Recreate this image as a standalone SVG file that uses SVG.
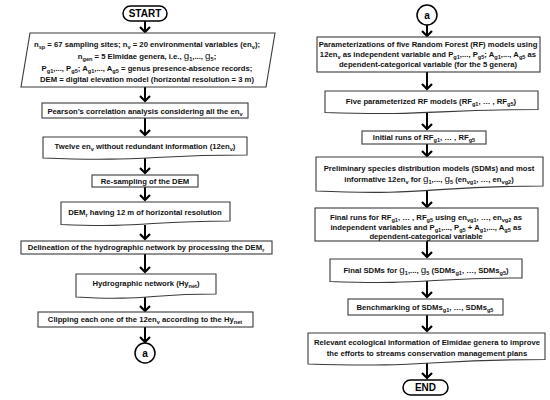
<svg xmlns="http://www.w3.org/2000/svg" width="550" height="400" viewBox="0 0 550 400">
<style>
.bx{fill:#fff;stroke:#3a3a3a;stroke-width:1.1}
.tm{fill:#fff;stroke:#000;stroke-width:1.5}
.t{font-family:"Liberation Sans",Arial,sans-serif;font-weight:bold;font-size:7.7px;fill:#111;text-anchor:middle}
.tt{font-family:"Liberation Sans",Arial,sans-serif;font-weight:bold;font-size:10px;fill:#000;text-anchor:middle}
.s{font-size:5.6px}
.g{font-size:9.8px;font-weight:normal}
.ar{stroke:#000;stroke-width:2;fill:none;marker-end:url(#ah)}
</style>
<defs>
<marker id="ah" viewBox="-7 -7 14 14" refX="0" refY="0" markerWidth="14" markerHeight="14" markerUnits="userSpaceOnUse" orient="auto">
<path d="M-5,-5 L0,0 L-5,5" fill="none" stroke="#000" stroke-width="2.2"/>
</marker>
</defs>
<rect width="550" height="400" fill="#fff"/>

<g id="connectors">
<path class="ar" d="M145,21 V32"/>
<path class="ar" d="M145,87 V101"/>
<path class="ar" d="M145,118 V135"/>
<path class="ar" d="M145,157 V173"/>
<path class="ar" d="M145,187 V200"/>
<path class="ar" d="M145,225 V239"/>
<path class="ar" d="M145,254 V272"/>
<path class="ar" d="M145,296 V311"/>
<path class="ar" d="M145,327 V342"/>
<path class="ar" d="M427,25 V36"/>
<path class="ar" d="M427,72 V89"/>
<path class="ar" d="M427,112 V129"/>
<path class="ar" d="M427,144 V156"/>
<path class="ar" d="M427,190 V207"/>
<path class="ar" d="M427,241 V257"/>
<path class="ar" d="M427,281 V297"/>
<path class="ar" d="M427,315 V331"/>
<path class="ar" d="M427,363 V378"/>
</g>

<g id="start">
<rect class="tm" x="123" y="6" width="44" height="15" rx="7.5"/>
<text class="tt" x="145" y="17.3">START</text>
</g>

<g id="inputs">
<polygon class="bx" points="30,33 275,33 266,87 21,87"/>
<text class="t" x="147" y="47">n<tspan class="s" dy="2">sp</tspan><tspan dy="-2"> = 67 sampling sites; n</tspan><tspan class="s" dy="2">v</tspan><tspan dy="-2"> = 20 environmental variables (en</tspan><tspan class="s" dy="2">v</tspan><tspan dy="-2">);</tspan></text>
<text class="t" x="147" y="59">n<tspan class="s" dy="2">gen</tspan><tspan dy="-2"> = 5 Elmidae genera, i.e., </tspan><tspan class="g">g</tspan><tspan class="s" dy="2">1</tspan><tspan dy="-2">,..., </tspan><tspan class="g">g</tspan><tspan class="s" dy="2">5</tspan><tspan dy="-2">;</tspan></text>
<text class="t" x="147" y="71">P<tspan class="s" dy="2">g1</tspan><tspan dy="-2">,..., P</tspan><tspan class="s" dy="2">g5</tspan><tspan dy="-2">; A</tspan><tspan class="s" dy="2">g1</tspan><tspan dy="-2">,..., A</tspan><tspan class="s" dy="2">g5</tspan><tspan dy="-2"> = genus presence-absence records;</tspan></text>
<text class="t" x="147" y="82">DEM = digital elevation model (horizontal resolution = 3 m)</text>
</g>

<g id="pearson">
<rect class="bx" x="42" y="103" width="206" height="15"/>
<text class="t" x="145" y="113.5">Pearson’s correlation analysis considering all the en<tspan class="s" dy="2">v</tspan></text>
</g>

<g id="twelve">
<path class="bx" d="M43,137 H247 V155 C145,155 145,162 43,158 Z"/>
<text class="t" x="145" y="149">Twelve en<tspan class="s" dy="2">v</tspan><tspan dy="-2"> without redundant information (12en</tspan><tspan class="s" dy="2">v</tspan><tspan dy="-2">)</tspan></text>
</g>

<g id="resampling">
<rect class="bx" x="92" y="175" width="106" height="12"/>
<text class="t" x="145" y="183.8">Re-sampling of the DEM</text>
</g>

<g id="demr">
<path class="bx" d="M61,202 H230 V221 C145,221 145,228 61,224.5 Z"/>
<text class="t" x="145" y="214.5">DEM<tspan class="s" dy="2">r</tspan><tspan dy="-2"> having 12 m of horizontal resolution</tspan></text>
</g>

<g id="delineation">
<rect class="bx" x="21" y="241" width="251" height="13"/>
<text class="t" x="146" y="250.3">Delineation of the hydrographic network by processing the DEM<tspan class="s" dy="2">r</tspan></text>
</g>

<g id="hynet">
<path class="bx" d="M76,274 H216 V294 C146,294 146,301 76,297 Z"/>
<text class="t" x="146" y="286">Hydrographic network (Hy<tspan class="s" dy="2">net</tspan><tspan dy="-2">)</tspan></text>
</g>

<g id="clipping">
<rect class="bx" x="38" y="312" width="215" height="15"/>
<text class="t" x="145" y="322">Clipping each one of the 12en<tspan class="s" dy="2">v</tspan><tspan dy="-2"> according to the Hy</tspan><tspan class="s" dy="2">net</tspan></text>
</g>

<g id="connA1">
<circle cx="145" cy="353" r="10" class="tm"/>
<text class="tt" x="145" y="356.6">a</text>
</g>

<g id="connA2">
<circle cx="427" cy="15" r="10" class="tm"/>
<text class="tt" x="427" y="18.6">a</text>
</g>

<g id="param">
<rect class="bx" x="317" y="37" width="223" height="35"/>
<text class="t" x="428" y="47">Parameterizations of five Random Forest (RF) models using</text>
<text class="t" x="428" y="57">12en<tspan class="s" dy="2">v</tspan><tspan dy="-2"> as independent variable and P</tspan><tspan class="s" dy="2">g1</tspan><tspan dy="-2">,..., P</tspan><tspan class="s" dy="2">g5</tspan><tspan dy="-2">; A</tspan><tspan class="s" dy="2">g1</tspan><tspan dy="-2">,..., A</tspan><tspan class="s" dy="2">g5</tspan><tspan dy="-2"> as</tspan></text>
<text class="t" x="428" y="67">dependent-categorical variable (for the 5 genera)</text>
</g>

<g id="fiveRF">
<path class="bx" d="M325,91 H538 V109.5 C431,109.5 431,116 325,112.5 Z"/>
<text class="t" x="431" y="104">Five parameterized RF models (RF<tspan class="s" dy="2">g1</tspan><tspan dy="-2">, … , RF</tspan><tspan class="s" dy="2">g5</tspan><tspan dy="-2">)</tspan></text>
</g>

<g id="initial">
<rect class="bx" x="362" y="131" width="124" height="13"/>
<text class="t" x="424" y="140">Initial runs of RF<tspan class="s" dy="2">g1</tspan><tspan dy="-2">, … , RF</tspan><tspan class="s" dy="2">g5</tspan></text>
</g>

<g id="preliminary">
<path class="bx" d="M316,157 H543 V186 C429,186 429,196 316,191 Z"/>
<text class="t" x="429" y="170.5">Preliminary species distribution models (SDMs) and most</text>
<text class="t" x="429" y="182">informative 12en<tspan class="s" dy="2">v</tspan><tspan dy="-2"> for </tspan><tspan class="g">g</tspan><tspan class="s" dy="2">1</tspan><tspan dy="-2">,..., </tspan><tspan class="g">g</tspan><tspan class="s" dy="2">5</tspan><tspan dy="-2">  (en</tspan><tspan class="s" dy="2">vg1</tspan><tspan dy="-2">, …, en</tspan><tspan class="s" dy="2">vg2</tspan><tspan dy="-2">)</tspan></text>
</g>

<g id="finalruns">
<rect class="bx" x="315" y="208" width="223" height="33"/>
<text class="t" x="426" y="219.5">Final runs for RF<tspan class="s" dy="2">g1</tspan><tspan dy="-2">, … , RF</tspan><tspan class="s" dy="2">g5</tspan><tspan dy="-2"> using en</tspan><tspan class="s" dy="2">vg1</tspan><tspan dy="-2">, …, en</tspan><tspan class="s" dy="2">vg2</tspan><tspan dy="-2"> as</tspan></text>
<text class="t" x="426" y="229.5">independent variables and P<tspan class="s" dy="2">g1</tspan><tspan dy="-2">,..., P</tspan><tspan class="s" dy="2">g5</tspan><tspan dy="-2"> + A</tspan><tspan class="s" dy="2">g1</tspan><tspan dy="-2">,..., A</tspan><tspan class="s" dy="2">g5</tspan><tspan dy="-2"> as</tspan></text>
<text class="t" x="426" y="239">dependent-categorical variable</text>
</g>

<g id="finalSDMs">
<path class="bx" d="M330,259 H522 V278 C426,278 426,285 330,281.5 Z"/>
<text class="t" x="426" y="273">Final SDMs for <tspan class="g">g</tspan><tspan class="s" dy="2">1</tspan><tspan dy="-2">,..., </tspan><tspan class="g">g</tspan><tspan class="s" dy="2">5</tspan><tspan dy="-2"> (SDMs</tspan><tspan class="s" dy="2">g1</tspan><tspan dy="-2">, …, SDMs</tspan><tspan class="s" dy="2">g5</tspan><tspan dy="-2">)</tspan></text>
</g>

<g id="benchmarking">
<rect class="bx" x="348" y="299" width="155" height="16"/>
<text class="t" x="425" y="309.5">Benchmarking of SDMs<tspan class="s" dy="2">g1</tspan><tspan dy="-2">, …, SDMs</tspan><tspan class="s" dy="2">g5</tspan></text>
</g>

<g id="relevant">
<path class="bx" d="M308,333 H545 V359.5 C426,359.5 426,368 308,364 Z"/>
<text class="t" x="427" y="345">Relevant ecological information of Elmidae genera to improve</text>
<text class="t" x="427" y="356">the efforts to streams conservation management plans</text>
</g>

<g id="end">
<rect class="tm" x="403" y="380" width="45" height="15" rx="7.5"/>
<text class="tt" x="425.5" y="391.3">END</text>
</g>
</svg>
